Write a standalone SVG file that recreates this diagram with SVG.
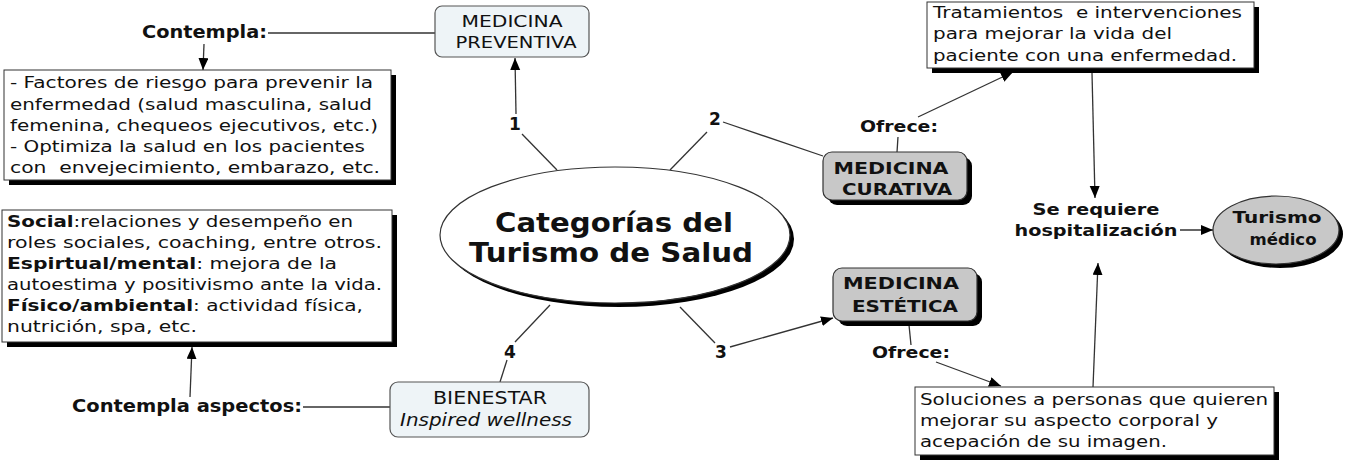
<svg xmlns="http://www.w3.org/2000/svg" width="1350" height="462" viewBox="0 0 1350 462">
<defs>
<marker id="arr" markerUnits="userSpaceOnUse" markerWidth="13" markerHeight="11" refX="12" refY="5" orient="auto">
<path d="M0,0 L12,5 L0,10 z" fill="#000"/>
</marker>
<style>
text{font-family:"DejaVu Sans",Verdana,sans-serif;fill:#111;}
.b{font-size:16px;}
.lab{font-size:18px;font-weight:bold;}
.lab2{font-size:16px;font-weight:bold;}
.num{font-size:17px;font-weight:bold;}
.pre{white-space:pre;}
.shadow{fill:#000;}
.tbox{fill:#fff;stroke:#333;stroke-width:1;}
.blue{fill:#eef4f7;stroke:#555;stroke-width:1.2;}
.gray{fill:#c8c8c8;stroke:#333;stroke-width:1.2;}
.ln{stroke:#333;stroke-width:1.3;fill:none;}
.ar{marker-end:url(#arr);}
</style>
</defs>
<rect width="1350" height="462" fill="#fff"/>

<g id="connectors">
<line class="ln" x1="268" y1="33" x2="435" y2="33"/>
<line class="ln ar" x1="204" y1="44" x2="203" y2="70"/>
<line class="ln" x1="557" y1="170" x2="522" y2="134"/>
<line class="ln ar" x1="516" y1="114" x2="515" y2="58"/>
<line class="ln" x1="670" y1="170" x2="707" y2="132"/>
<line class="ln" x1="723" y1="122" x2="823" y2="156"/>
<line class="ln" x1="897" y1="152" x2="898" y2="137"/>
<line class="ln ar" x1="918" y1="117" x2="1013" y2="72"/>
<line class="ln ar" x1="1092" y1="73" x2="1095" y2="198"/>
<line class="ln ar" x1="1180" y1="230" x2="1213" y2="230"/>
<line class="ln ar" x1="1093" y1="387" x2="1098" y2="263"/>
<line class="ln" x1="680" y1="307" x2="715" y2="343"/>
<line class="ln ar" x1="730" y1="347" x2="833" y2="318"/>
<line class="ln" x1="909" y1="325" x2="911" y2="345"/>
<line class="ln ar" x1="936" y1="362" x2="1001" y2="386"/>
<line class="ln" x1="550" y1="305" x2="515" y2="342"/>
<line class="ln" x1="507" y1="360" x2="500" y2="382"/>
<line class="ln" x1="303" y1="407" x2="390" y2="407"/>
<line class="ln ar" x1="190" y1="397" x2="192" y2="347"/>
<text class="num" x="515" y="130" text-anchor="middle">1</text>
<text class="num" x="715" y="125" text-anchor="middle">2</text>
<text class="num" x="721" y="358" text-anchor="middle">3</text>
<text class="num" x="510" y="358" text-anchor="middle">4</text>
</g>

<g id="center">
<ellipse class="shadow" cx="619" cy="239" rx="175" ry="68"/>
<ellipse cx="615" cy="235" rx="175" ry="68" fill="#fff" stroke="#333" stroke-width="1.2"/>
<text x="614" y="232" text-anchor="middle" font-size="27" font-weight="bold" textLength="238" lengthAdjust="spacingAndGlyphs">Categorías del</text>
<text x="611" y="262" text-anchor="middle" font-size="27" font-weight="bold" textLength="284" lengthAdjust="spacingAndGlyphs">Turismo de Salud</text>
</g>

<g id="preventiva">
<rect class="blue" x="435" y="6" width="154" height="51" rx="7"/>
<text class="b" x="512" y="27" text-anchor="middle" font-size="17" textLength="101" lengthAdjust="spacingAndGlyphs">MEDICINA</text>
<text class="b" x="516" y="48" text-anchor="middle" font-size="17" textLength="121" lengthAdjust="spacingAndGlyphs">PREVENTIVA</text>
</g>

<g id="contempla1">
<text class="lab" x="142" y="38" textLength="125" lengthAdjust="spacingAndGlyphs">Contempla:</text>
</g>

<g id="factores">
<rect class="shadow" x="9" y="75" width="387" height="110"/>
<rect class="tbox" x="4" y="70" width="387" height="110"/>
<text class="b" x="10" y="88" textLength="363" lengthAdjust="spacingAndGlyphs">- Factores de riesgo para prevenir la</text>
<text class="b" x="10" y="110" textLength="362" lengthAdjust="spacingAndGlyphs">enfermedad (salud masculina, salud</text>
<text class="b" x="10" y="131" textLength="368" lengthAdjust="spacingAndGlyphs">femenina, chequeos ejecutivos, etc.)</text>
<text class="b" x="10" y="152" textLength="355" lengthAdjust="spacingAndGlyphs">- Optimiza la salud en los pacientes</text>
<text class="b pre" x="10" y="173" textLength="370" lengthAdjust="spacingAndGlyphs">con  envejecimiento, embarazo, etc.</text>
</g>

<g id="curativa">
<rect class="shadow" x="828" y="157" width="144" height="48" rx="9"/>
<rect class="gray" x="823" y="152" width="144" height="48" rx="9"/>
<text x="891" y="174" text-anchor="middle" font-size="16" font-weight="bold" textLength="115" lengthAdjust="spacingAndGlyphs">MEDICINA</text>
<text x="897" y="195" text-anchor="middle" font-size="16" font-weight="bold" textLength="110" lengthAdjust="spacingAndGlyphs">CURATIVA</text>
</g>

<g id="ofrece1">
<text class="lab2" x="860" y="132" textLength="78" lengthAdjust="spacingAndGlyphs">Ofrece:</text>
</g>

<g id="tratamientos">
<rect class="shadow" x="932" y="7" width="327" height="66"/>
<rect class="tbox" x="927" y="2" width="327" height="66"/>
<text class="b pre" x="933" y="18" textLength="309" lengthAdjust="spacingAndGlyphs">Tratamientos  e intervenciones</text>
<text class="b" x="933" y="39" textLength="239" lengthAdjust="spacingAndGlyphs">para mejorar la vida del</text>
<text class="b" x="933" y="61" textLength="304" lengthAdjust="spacingAndGlyphs">paciente con una enfermedad.</text>
</g>

<g id="hospitalizacion">
<text class="lab2" x="1096" y="215" text-anchor="middle" textLength="127" lengthAdjust="spacingAndGlyphs">Se requiere</text>
<text class="lab2" x="1096" y="236" text-anchor="middle" textLength="163" lengthAdjust="spacingAndGlyphs">hospitalización</text>
</g>

<g id="turismo-medico">
<ellipse class="shadow" cx="1280" cy="234" rx="63" ry="34"/>
<ellipse class="gray" cx="1276" cy="230" rx="63" ry="34"/>
<text x="1277" y="223" text-anchor="middle" font-size="16" font-weight="bold" textLength="89" lengthAdjust="spacingAndGlyphs">Turismo</text>
<text x="1283" y="245" text-anchor="middle" font-size="16" font-weight="bold" textLength="67" lengthAdjust="spacingAndGlyphs">médico</text>
</g>

<g id="estetica">
<rect class="shadow" x="838" y="273" width="144" height="53" rx="9"/>
<rect class="gray" x="833" y="268" width="144" height="53" rx="9"/>
<text x="901" y="289" text-anchor="middle" font-size="16" font-weight="bold" textLength="116" lengthAdjust="spacingAndGlyphs">MEDICINA</text>
<text x="905" y="312" text-anchor="middle" font-size="16" font-weight="bold" textLength="106" lengthAdjust="spacingAndGlyphs">ESTÉTICA</text>
</g>

<g id="ofrece2">
<text class="lab2" x="872" y="358" textLength="78" lengthAdjust="spacingAndGlyphs">Ofrece:</text>
</g>

<g id="soluciones">
<rect class="shadow" x="920" y="392" width="359" height="68"/>
<rect class="tbox" x="915" y="387" width="359" height="68"/>
<text class="b" x="920" y="405" textLength="348" lengthAdjust="spacingAndGlyphs">Soluciones a personas que quieren</text>
<text class="b" x="920" y="426" textLength="298" lengthAdjust="spacingAndGlyphs">mejorar su aspecto corporal y</text>
<text class="b" x="920" y="447" textLength="247" lengthAdjust="spacingAndGlyphs">acepación de su imagen.</text>
</g>

<g id="bienestar">
<rect class="blue" x="390" y="382" width="199" height="55" rx="8"/>
<text x="490" y="404" text-anchor="middle" font-size="17" textLength="114" lengthAdjust="spacingAndGlyphs">BIENESTAR</text>
<text x="486" y="426" text-anchor="middle" font-size="17" font-style="italic" textLength="172" lengthAdjust="spacingAndGlyphs">Inspired wellness</text>
</g>

<g id="contempla2">
<text class="lab" x="72" y="412" textLength="230" lengthAdjust="spacingAndGlyphs">Contempla aspectos:</text>
</g>

<g id="aspectos">
<rect class="shadow" x="7" y="215" width="390" height="132"/>
<rect class="tbox" x="2" y="210" width="390" height="132"/>
<text class="b" x="7" y="227" textLength="346" lengthAdjust="spacingAndGlyphs"><tspan font-weight="bold">Social</tspan>:relaciones y desempeño en</text>
<text class="b" x="7" y="248" textLength="375" lengthAdjust="spacingAndGlyphs">roles sociales, coaching, entre otros.</text>
<text class="b" x="7" y="269" textLength="330" lengthAdjust="spacingAndGlyphs"><tspan font-weight="bold">Espirtual/mental</tspan>: mejora de la</text>
<text class="b" x="7" y="290" textLength="375" lengthAdjust="spacingAndGlyphs">autoestima y positivismo ante la vida.</text>
<text class="b" x="7" y="311" textLength="356" lengthAdjust="spacingAndGlyphs"><tspan font-weight="bold">Físico/ambiental</tspan>: actividad física,</text>
<text class="b" x="7" y="332" textLength="190" lengthAdjust="spacingAndGlyphs">nutrición, spa, etc.</text>
</g>
</svg>
